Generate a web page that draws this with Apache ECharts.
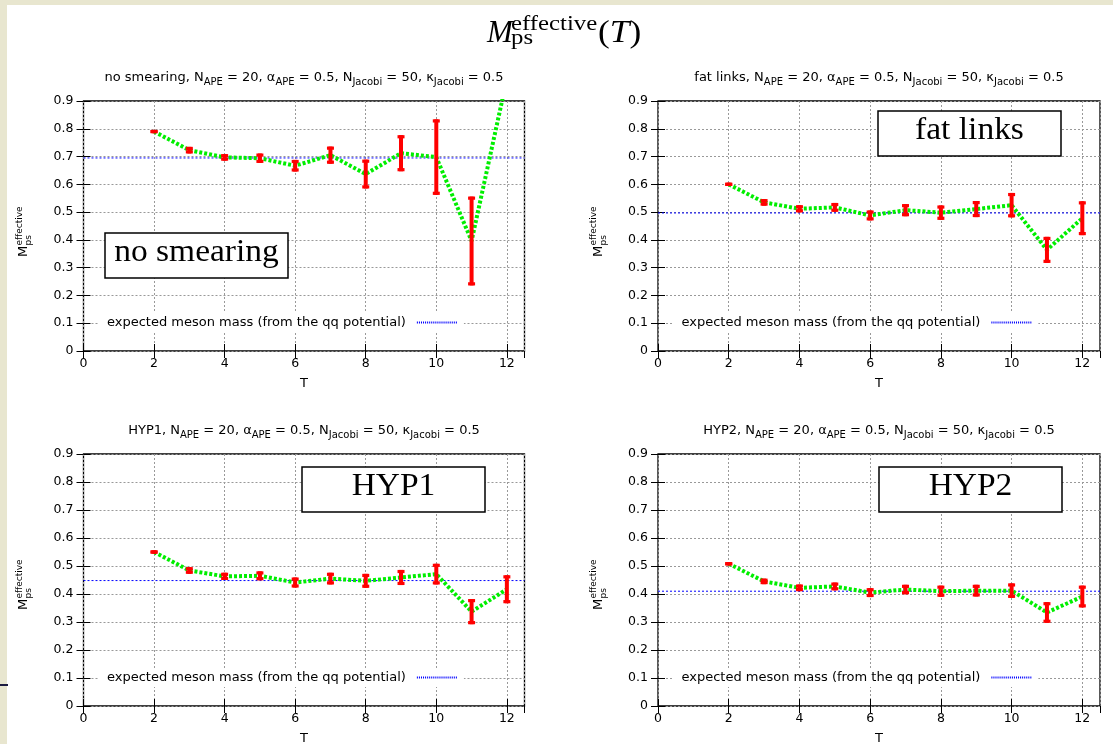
<!DOCTYPE html>
<html>
<head>
<meta charset="utf-8">
<script src="https://cdn.jsdelivr.net/npm/echarts@6/dist/echarts.min.js"></script>
<style>
html, body { margin: 0; padding: 0; background: #fff; }
#chart { width: 1113px; height: 744px; }
</style>
</head>
<body>
<div id="chart"></div>
<script>
// time slices and axis ticks
const T = [2, 3, 4, 5, 6, 7, 8, 9, 10, 11, 12];
const xTicks = [0, 2, 4, 6, 8, 10, 12];
const yTicks = [0, 0.1, 0.2, 0.3, 0.4, 0.5, 0.6, 0.7, 0.8, 0.9];
const xMax = 12.5;

// effective mass and error per smearing type
const noSmearingMass = [0.790, 0.723, 0.697, 0.694, 0.667, 0.705, 0.637, 0.712, 0.698, 0.396, 0.98];
const noSmearingErr = [0.006, 0.012, 0.012, 0.017, 0.021, 0.031, 0.052, 0.065, 0.136, 0.160, 0.07];
const fatLinksMass = [0.600, 0.535, 0.512, 0.517, 0.488, 0.507, 0.498, 0.511, 0.525, 0.364, 0.478];
const fatLinksErr = [0.006, 0.012, 0.013, 0.016, 0.018, 0.022, 0.026, 0.029, 0.044, 0.047, 0.061];
const hyp1Mass = [0.550, 0.484, 0.463, 0.465, 0.441, 0.455, 0.447, 0.459, 0.471, 0.337, 0.417];
const hyp1Err = [0.006, 0.012, 0.013, 0.016, 0.018, 0.021, 0.025, 0.027, 0.037, 0.045, 0.050];
const hyp2Mass = [0.508, 0.445, 0.422, 0.427, 0.405, 0.416, 0.410, 0.412, 0.412, 0.334, 0.391];
const hyp2Err = [0.006, 0.010, 0.012, 0.014, 0.016, 0.017, 0.020, 0.021, 0.026, 0.037, 0.039];
// expected meson mass from the qq potential
const expectedMass = [0.695, 0.497, 0.448, 0.410];

const panelNames = ['no smearing', 'fat links', 'HYP1', 'HYP2'];
const expectedName = 'expected meson mass (from the qq potential)';

const masses = [noSmearingMass, fatLinksMass, hyp1Mass, hyp2Mass];
const errors = [noSmearingErr, fatLinksErr, hyp1Err, hyp2Err];

// layout
const boxes = [
  { left: 83.5, top: 101, width: 441, height: 250 },
  { left: 658, top: 101, width: 442, height: 250 },
  { left: 83.5, top: 454, width: 441, height: 252 },
  { left: 658, top: 454, width: 442, height: 252 }
];
const insets = [[105, 233], [878, 111], [302, 467], [879, 467]];
const sans = 'DejaVu Sans';
const serif = 'Liberation Serif';

// dotted key sample, 20 dots
let dotIcon = 'path://';
for (let k = 0; k < 20; k++) dotIcon += 'M' + (2 * k) + ',0h1v1h-1z';

function errorBar(params, api) {
  const x = api.value(0);
  const top = api.coord([x, api.value(2)]);
  const bot = api.coord([x, api.value(1)]);
  const cs = params.coordSys;
  const yMin = cs.y, yMax = cs.y + cs.height;
  if (bot[1] < yMin || top[1] > yMax) return null;
  const y1 = Math.max(top[1], yMin);
  const y2 = Math.min(bot[1], yMax);
  const st = { stroke: '#ff0000', lineWidth: 4 };
  const cap = { stroke: '#ff0000', lineWidth: 3.2 };
  const children = [{ type: 'line', shape: { x1: top[0], y1: y1, x2: top[0], y2: y2 }, style: st }];
  if (top[1] >= yMin) children.push({ type: 'line', shape: { x1: top[0] - 3.5, y1: y1 + 1.6, x2: top[0] + 3.5, y2: y1 + 1.6 }, style: cap });
  if (bot[1] <= yMax) children.push({ type: 'line', shape: { x1: top[0] - 3.5, y1: y2 - 1.6, x2: top[0] + 3.5, y2: y2 - 1.6 }, style: cap });
  return { type: 'group', children: children };
}

const grids = [], xAxes = [], yAxes = [], series = [], legends = [], graphics = [];

boxes.forEach(function (b, i) {
  grids.push({
    left: b.left, top: b.top, width: b.width, height: b.height,
    show: true, borderColor: '#000', borderWidth: 1.3, backgroundColor: 'transparent',
    containLabel: false, outerBoundsMode: 'none'
  });
  const tick = { show: true, inside: true, length: 7, lineStyle: { color: '#000', width: 1 } };
  const grid = { show: true, lineStyle: { color: '#999', width: 1, type: [2, 2] } };
  xAxes.push({
    type: 'value', gridIndex: i, position: 'bottom',
    min: xTicks[0], max: xMax, interval: xTicks[1] - xTicks[0],
    name: 'T', nameLocation: 'middle', nameGap: 26,
    nameTextStyle: { fontFamily: sans, fontSize: 13, color: '#000' },
    axisLine: { show: false }, axisTick: tick, splitLine: grid,
    axisLabel: { fontFamily: sans, fontSize: 12.5, color: '#000', margin: 6, showMaxLabel: false }
  });
  xAxes.push({
    type: 'value', gridIndex: i, position: 'top',
    min: xTicks[0], max: xMax, interval: xTicks[1] - xTicks[0],
    axisLine: { show: false }, axisTick: tick, splitLine: { show: false }, axisLabel: { show: false }
  });
  yAxes.push({
    type: 'value', gridIndex: i, position: 'left',
    min: yTicks[0], max: yTicks[yTicks.length - 1], interval: yTicks[1] - yTicks[0],
    axisLine: { show: false }, axisTick: tick, splitLine: grid,
    axisLabel: { fontFamily: sans, fontSize: 12.5, color: '#000', margin: 10 }
  });
  yAxes.push({
    type: 'value', gridIndex: i, position: 'right',
    min: yTicks[0], max: yTicks[yTicks.length - 1], interval: yTicks[1] - yTicks[0],
    axisLine: { show: false }, axisTick: tick, splitLine: { show: false }, axisLabel: { show: false }
  });

  const expKey = 'expected ' + i;
  series.push({
    type: 'line', name: expKey, xAxisIndex: 2 * i, yAxisIndex: 2 * i,
    data: [[xTicks[0], expectedMass[i]], [xMax, expectedMass[i]]],
    symbol: 'none', silent: true, z: 2, color: '#0000ff',
    lineStyle: { color: '#0000ff', width: 1, type: [2, 2] }, itemStyle: { color: '#0000ff' }
  });
  series.push({
    type: 'line', name: panelNames[i], xAxisIndex: 2 * i, yAxisIndex: 2 * i,
    data: T.map(function (t, k) { return [t, masses[i][k]]; }),
    symbol: 'none', silent: true, z: 3,
    lineStyle: { color: '#00ee00', width: 4, type: [3, 2] }
  });
  series.push({
    type: 'custom', name: panelNames[i] + ' error', xAxisIndex: 2 * i, yAxisIndex: 2 * i,
    renderItem: errorBar, silent: true, z: 4,
    encode: { x: 0, y: [1, 2] },
    data: T.map(function (t, k) { return [t, masses[i][k] - errors[i][k], masses[i][k] + errors[i][k]]; })
  });

  const y01 = b.top + b.height * (1 - 0.1 / 0.9);
  legends.push({
    data: [{ name: expKey, icon: dotIcon, itemStyle: { color: '#0000ff', opacity: 1 } }],
    left: b.left + 14.5, top: Math.round(y01) - 10, orient: 'horizontal',
    align: 'right', itemWidth: 40, itemHeight: 2, symbolKeepAspect: false,
    backgroundColor: '#fff', padding: [3, 7, 3, 9], selectedMode: false,
    inactiveColor: '#0000ff',
    itemStyle: { color: '#0000ff', borderWidth: 0 },
    formatter: function () { return expectedName; },
    textStyle: { fontFamily: sans, fontSize: 13, color: '#000', padding: [0, 6, 0, 0] }
  });

  // panel title
  graphics.push({
    type: 'text', x: b.left + b.width / 2, y: b.top - 23,
    style: {
      text: panelNames[i] + ', N{s|APE} = 20, \u03b1{s|APE} = 0.5, N{s|Jacobi} = 50, \u03ba{s|Jacobi} = 0.5',
      font: '13px "' + sans + '"', fill: '#000', lineHeight: 18,
      textAlign: 'center', textVerticalAlign: 'middle',
      rich: { s: { fontSize: 10, fontFamily: sans, lineHeight: 10, verticalAlign: 'bottom', fill: '#000' } }
    }
  });
  // y axis name M_ps^effective
  graphics.push({
    type: 'group', x: b.left - 59.5, y: b.top + 156, rotation: Math.PI / 2,
    children: [
      { type: 'text', x: 0, y: 0, style: { text: 'M', font: '13px "' + sans + '"', fill: '#000', textAlign: 'left', textVerticalAlign: 'middle' } },
      { type: 'text', x: 11.5, y: -4.5, style: { text: 'effective', font: '9px "' + sans + '"', fill: '#000', textAlign: 'left', textVerticalAlign: 'middle' } },
      { type: 'text', x: 11.5, y: 5, style: { text: 'ps', font: '9px "' + sans + '"', fill: '#000', textAlign: 'left', textVerticalAlign: 'middle' } }
    ]
  });
  // inset label box
  graphics.push({
    type: 'rect', x: insets[i][0], y: insets[i][1], z: 10,
    shape: { width: 183, height: 45 },
    style: { fill: '#fff', stroke: '#000', lineWidth: 1.5 }
  });
  graphics.push({
    type: 'text', x: insets[i][0] + 91.5, y: insets[i][1] + 20, z: 11, scaleX: 1.08,
    style: { text: panelNames[i], font: '31px "' + serif + '"', fill: '#000', textAlign: 'center', textVerticalAlign: 'middle' }
  });
});

// slide frame
graphics.push({ type: 'rect', x: 0, y: 0, z: 20, shape: { width: 7, height: 744 }, style: { fill: '#e8e6cf' } });
graphics.push({ type: 'rect', x: 0, y: 0, z: 20, shape: { width: 1113, height: 5 }, style: { fill: '#e8e6cf' } });
graphics.push({ type: 'rect', x: 0, y: 684, z: 21, shape: { width: 8, height: 2 }, style: { fill: '#1b1b40' } });

// main title M_ps^effective(T)
graphics.push({ type: 'text', x: 487, y: 33.5, style: { text: 'M', font: 'italic 31px "' + serif + '"', fill: '#000', textAlign: 'left', textVerticalAlign: 'middle' } });
graphics.push({ type: 'text', x: 511, y: 24.6, scaleX: 1.18, style: { text: 'effective', font: '21px "' + serif + '"', fill: '#000', textAlign: 'left', textVerticalAlign: 'middle' } });
graphics.push({ type: 'text', x: 511, y: 38.9, scaleX: 1.18, style: { text: 'ps', font: '21px "' + serif + '"', fill: '#000', textAlign: 'left', textVerticalAlign: 'middle' } });
graphics.push({
  type: 'text', x: 598, y: 33.5, scaleX: 1.14,
  style: {
    text: '({i|T})', font: '31px "' + serif + '"', fill: '#000', textAlign: 'left', textVerticalAlign: 'middle',
    rich: { i: { font: 'italic 31px "' + serif + '"', fill: '#000' } }
  }
});

const chart = echarts.init(document.getElementById('chart'));
chart.setOption({
  animation: false,
  backgroundColor: '#fff',
  grid: grids,
  xAxis: xAxes,
  yAxis: yAxes,
  legend: legends,
  series: series,
  graphic: graphics
});
</script>
</body>
</html>
